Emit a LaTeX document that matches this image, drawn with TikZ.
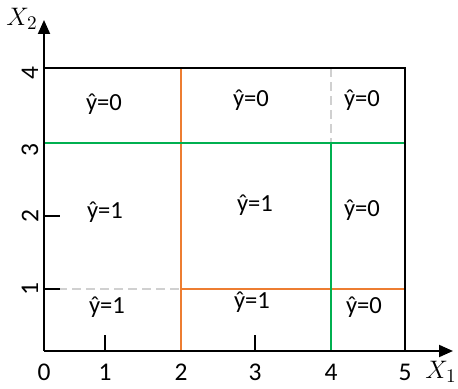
\documentclass[tikz,border=0pt]{standalone}
\usepackage{fontspec}
\setmainfont{Carlito}
\usetikzlibrary{arrows.meta}
\definecolor{splitorange}{HTML}{ED7D31}
\definecolor{splitgreen}{HTML}{00B050}
\definecolor{gridgray}{HTML}{D0D0D0}

\begin{document}
\begin{tikzpicture}[
    x=0.02cm, y=-0.02cm,
    lbl/.style={font=\fontsize{14.5}{17}\selectfont, inner sep=1pt},
    varlbl/.style={font=\fontsize{15}{17}\selectfont, inner sep=1pt},
    cell/.style={font=\fontsize{14}{16}\selectfont, inner sep=1pt},
    axis/.style={line width=1.1pt, -{Triangle[length=2.8mm, width=2.4mm]}},
    border/.style={line width=1.1pt},
    tick/.style={line width=1pt},
    split1/.style={line width=1.1pt, splitorange},
    split2/.style={line width=1.1pt, splitgreen},
    hidden/.style={line width=0.8pt, gridgray, dash pattern=on 5pt off 3pt}
  ]
    \useasboundingbox (0,0) rectangle (458,389);
    % corners of the region
    \coordinate (o) at (44,351);
    \coordinate (xend) at (453,351);
    \coordinate (yend) at (44,20);
    \coordinate (tl) at (44,68);
    \coordinate (tr) at (405,68);
    \coordinate (br) at (405,351);
    % split points
    \coordinate (ot) at (181,68);
    \coordinate (ob) at (181,351);
    \coordinate (om) at (181,289);
    \coordinate (or) at (405,289);
    \coordinate (gl) at (44,143);
    \coordinate (gr) at (405,143);
    \coordinate (gm) at (331,143);
    \coordinate (gb) at (331,351);
    \coordinate (gt) at (331,68);
    \coordinate (dl) at (44,289);

    \draw[hidden] (dl) -- (om);
    \draw[hidden] (gt) -- (gm);
    \draw[split1] (ot) -- (ob);
    \draw[split1] (om) -- (or);
    \draw[split2] (gl) -- (gr);
    \draw[split2] (gm) -- (gb);
    \draw[border] (tl) -- (tr) -- (br);
    \draw[axis] (o) -- (xend);
    \draw[axis] (o) -- (yend);

    % ticks
    \foreach \px in {105, 255}
      \draw[tick] (\px,351) -- (\px,335);
    \foreach \py in {289, 216}
      \draw[tick] (44,\py) -- (60,\py);
    \foreach \px/\t in {44/0, 105/1, 181/2, 255/3, 331/4, 405/5}
      \node[lbl] (xt\t) at (\px,372) {\t};
    \foreach \py/\t in {289/1, 216/2, 150/3, 73/4}
      \node[lbl, rotate=90] (yt\t) at (30,\py) {\t};
    \node[varlbl] (xlab) at (441,372) {$X_1$};
    \node[varlbl] (ylab) at (22,19) {$X_2$};

    % predictions
    \node[cell] (c11) at (104,104) {ŷ=0};
    \node[cell] (c12) at (251,100) {ŷ=0};
    \node[cell] (c13) at (362,100) {ŷ=0};
    \node[cell] (c21) at (105,212) {ŷ=1};
    \node[cell] (c22) at (255,205) {ŷ=1};
    \node[cell] (c23) at (362,210) {ŷ=0};
    \node[cell] (c31) at (107,307) {ŷ=1};
    \node[cell] (c32) at (252,302) {ŷ=1};
    \node[cell] (c33) at (364,307) {ŷ=0};
  \end{tikzpicture}
\end{document}
